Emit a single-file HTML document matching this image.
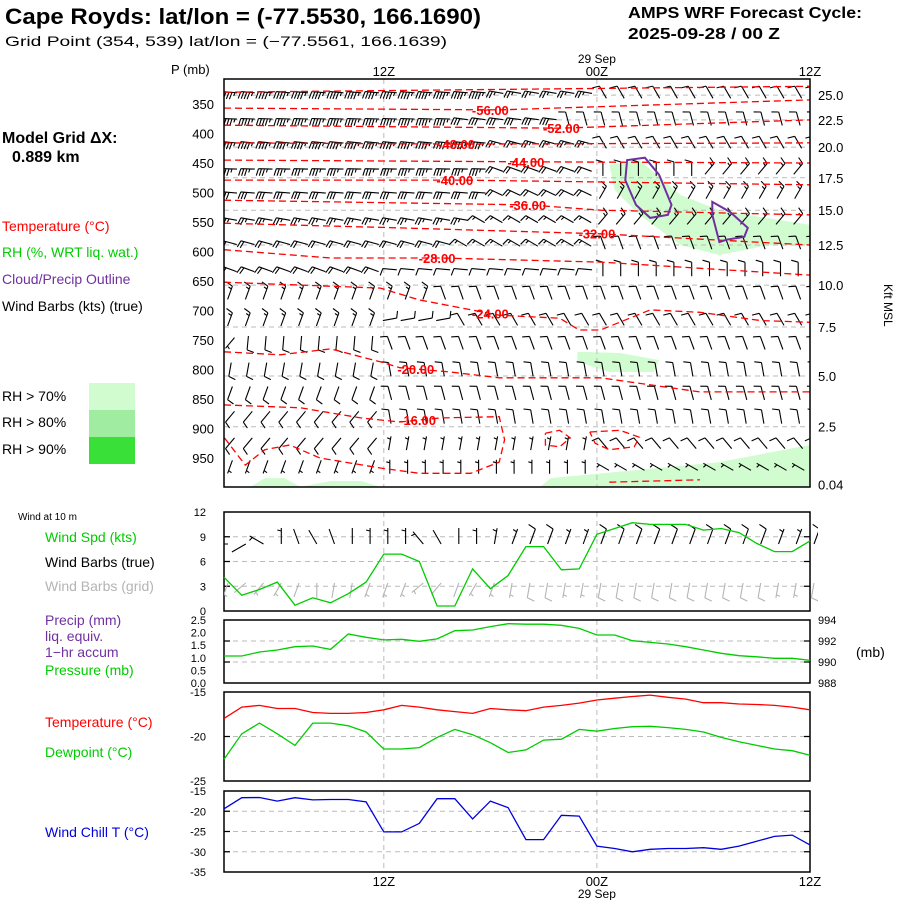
<!DOCTYPE html>
<html><head><meta charset="utf-8"><title>AMPS meteogram Cape Royds</title>
<style>
html,body{margin:0;padding:0;background:#fff;}
svg{display:block;font-family:"Liberation Sans",sans-serif;}
</style></head>
<body>
<svg id="chart" width="900" height="900" viewBox="0 0 900 900" xmlns="http://www.w3.org/2000/svg">
<rect width="900" height="900" fill="#fff"/>
<text x="5" y="24" font-size="22" font-weight="bold" textLength="476" lengthAdjust="spacingAndGlyphs">Cape Royds:  lat/lon = (-77.5530, 166.1690)</text>
<text x="5" y="46" font-size="14" textLength="442" lengthAdjust="spacingAndGlyphs">Grid Point (354, 539) lat/lon = (−77.5561, 166.1639)</text>
<text x="628" y="18" font-size="16" font-weight="bold" textLength="234" lengthAdjust="spacingAndGlyphs">AMPS WRF Forecast Cycle:</text>
<text x="628" y="39" font-size="16" font-weight="bold" textLength="152" lengthAdjust="spacingAndGlyphs">2025-09-28 / 00  Z</text>
<text x="2" y="143" font-size="16" font-weight="bold">Model Grid ΔX:</text>
<text x="12" y="162" font-size="16" font-weight="bold">0.889 km</text>
<g font-size="14">
<text x="2" y="231" fill="#ff0000">Temperature (°C)</text>
<text x="2" y="257" fill="#00cc00">RH (%, WRT liq. wat.)</text>
<text x="2" y="284" fill="#7030a0">Cloud/Precip Outline</text>
<text x="2" y="311" fill="#000">Wind Barbs (kts) (true)</text>
<text x="2" y="401">RH &gt; 70%</text>
<text x="2" y="427">RH &gt; 80%</text>
<text x="2" y="454">RH &gt; 90%</text>
</g>
<rect x="89" y="383" width="46" height="27" fill="#d0fcd0"/>
<rect x="89" y="410" width="46" height="27" fill="#a0eca0"/>
<rect x="89" y="437" width="46" height="27" fill="#38e038"/>
<text x="18" y="520" font-size="10">Wind at 10 m</text>
<g font-size="14">
<text x="45" y="542" fill="#00cc00">Wind Spd (kts)</text>
<text x="45" y="567" fill="#000">Wind Barbs (true)</text>
<text x="45" y="591" fill="#b4b4b4">Wind Barbs (grid)</text>
<text x="45" y="625" fill="#7030a0">Precip (mm)</text>
<text x="45" y="641" fill="#7030a0">liq. equiv.</text>
<text x="45" y="657" fill="#7030a0">1−hr accum</text>
<text x="45" y="675" fill="#00cc00">Pressure (mb)</text>
<text x="45" y="727" fill="#ff0000">Temperature (°C)</text>
<text x="45" y="757" fill="#00cc00">Dewpoint (°C)</text>
<text x="45" y="837" fill="#0000dd">Wind Chill T (°C)</text>
<text x="171" y="74" font-size="13">P (mb)</text>
<text x="884" y="284" font-size="12" transform="rotate(90 884 284)">Kft MSL</text>
<text x="856" y="657">(mb)</text>
</g>
<g id="layer"></g>
</svg>
<script>
// ---------- data ----------
const hours = Array.from({length:34},(_,i)=>i); // hourly from 03Z
const timeTickHours = [9, 21, 33];
const timeTickLabels = ["12Z", "00Z", "12Z"];
const dateLabel = "29 Sep";
const pressureTicks = [350,400,450,500,550,600,650,700,750,800,850,900,950];
const kftLabels = ["25.0","22.5","20.0","17.5","15.0","12.5","10.0","7.5","5.0","2.5","0.04"];
const kftPressures = [335,377,423,475,530,589,657,728,811,897,995];
const barbLevels = [330,375,415,460,500,545,585,630,670,715,755,800,840,880,925,965];
// per level: segments [lastHour, directionDeg, speedKts]
const barbSegs = [
 [[14,275,45],[20,280,25],[33,330,10]],
 [[12,272,45],[18,278,30],[33,345,12]],
 [[14,275,45],[20,285,25],[33,330,10]],
 [[14,272,35],[20,290,20],[26,0,12],[33,40,15]],
 [[14,275,30],[20,295,20],[33,30,15]],
 [[13,280,25],[20,300,15],[33,40,15]],
 [[12,285,20],[20,300,15],[33,340,10]],
 [[8,290,20],[20,275,10],[33,0,10]],
 [[11,20,15],[33,340,10]],
 [[8,20,15],[12,80,10],[33,330,10]],
 [[0,220,5],[8,185,10],[33,340,10]],
 [[8,190,10],[33,350,12]],
 [[8,200,10],[33,345,12]],
 [[8,220,10],[33,350,10]],
 [[8,220,10],[20,10,5],[33,320,10]],
 [[8,200,5],[20,0,5],[33,300,5]]
];
const contourLevels = [-60,-56,-52,-48,-44,-40,-36,-32,-28,-24,-20,-16,-16,-16,-16];
const contourHours = [
 [0,33],[0,15.5,33],[0,18.9,33],[0,13.3,33],[0,17.2,33],[0,13.3,33],[0,17.2,21.2,33],
 [0,9.9,21.2,33],[0,6,12.2,21.2,33],[0,8.8,11,15.5,18.9,20,21.2,24,26.8,30.2,33],
 [0,3.15,6,8.8,9.9,12.7,15.5,21.2,26.8,33],
 [0,4.3,7.7,9.9,12.2,15.5,15.8,15.5,13.9,11,8.8,5.4,3.7,2.3,1.2,0],
 [18.1,18.9,19.5,18.9,18.1,18.1],[20.6,22.3,23.4,23.1,21.7,20.9,20.6],[21.7,26.8]
];
const contourPressures = [
 [330,320],[357,360,343],[386,391,377],[416,418,416],[445,448,450],[479,479,487],[513,521,530,538],
 [552,560,570,589],[597,611,611,618,640],[652,662,682,708,713,733,733,699,703,717,720],
 [770,775,765,787,797,804,814,814,838,838],
 [860,865,882,889,882,880,919,957,976,976,967,950,928,936,962,915],
 [908,903,916,931,928,908],[906,903,915,931,936,925,906],[991,987]
];
const contourLabelHours = [null,15,19,13.1,17,13,17.1,21,12,15,10.8,10.9,null,null,null];
const rhHours = [[21.7,23.4,25.7,27.9,33,33,30.7,27.9,25.7,23.4,22],[19.9,22.3,24.5,24.2,21.7,19.9],
 [18.4,23.4,27.9,33,33,17.8],[1.5,2.3,3.4,4.3],[4.3,6,7.7,8.8]];
const rhPressures = [[453,445,504,530,555,589,589,606,589,538,496],[770,772,784,804,804,787],
 [984,970,957,928,999,999],[999,984,984,999],[999,989,989,999]];
const cloudHours = [[22.7,23.7,24.5,25.2,25,24,23.2,22.6],[27.5,28.5,29.5,29.3,28.3,27.9,27.5]];
const cloudPressures = [[445,441,470,521,538,543,521,479],[516,533,560,575,580,584,538]];
const windSpd = [4.1,1.9,2.6,3.5,0.7,1.6,1.0,2.1,3.5,6.9,6.9,6.0,0.6,0.6,5.1,2.7,4.3,7.8,7.8,5.0,5.1,9.3,10.0,10.7,10.5,10.5,10.5,9.8,10.0,9.5,8.2,7.2,7.2,8.5];
const windDir10 = [270,240,300,0,340,330,340,0,0,0,0,320,330,0,0,10,20,20,20,20,20,20,20,20,20,20,20,20,20,20,20,20,20,20];
const windDirGrid = [200,230,220,210,200,180,190,190,200,200,200,230,220,200,210,200,190,190,190,190,190,190,190,190,190,190,190,190,190,190,190,190,190,190];
const windTicks = [0,3,6,9,12];
const pressureSfc = [990.57,990.57,990.95,991.14,991.46,991.52,991.2,992.67,992.35,992.1,992.16,991.97,992.2,992.98,993.05,993.37,993.65,993.6,993.6,993.5,993.2,992.57,992.57,992.03,991.87,991.71,991.46,991.14,990.83,990.6,990.5,990.35,990.35,990.16];
const precipTicks = ["0.0","0.5","1.0","1.5","2.0","2.5"];
const mslpTicks = [988,990,992,994];
const temperature = [-17.97,-16.7,-16.5,-16.85,-16.85,-17.3,-17.4,-17.4,-17.3,-17.0,-16.5,-16.7,-17.0,-17.2,-17.4,-16.85,-17.0,-17.1,-16.7,-16.5,-16.25,-15.9,-15.7,-15.5,-15.35,-15.6,-15.8,-16.2,-16.2,-16.35,-16.4,-16.5,-16.7,-17.0];
const dewpoint = [-22.55,-19.7,-18.5,-19.7,-21.0,-18.5,-18.5,-18.8,-19.5,-21.4,-21.4,-21.25,-20.1,-19.2,-19.8,-20.7,-21.8,-21.5,-20.4,-20.3,-19.2,-19.4,-19.1,-18.9,-18.85,-19.0,-19.2,-19.5,-20.1,-20.6,-21.0,-21.4,-21.6,-22.1];
const tempTicks = [-25,-20,-15];
const windChill = [-19.4,-16.65,-16.6,-17.5,-16.65,-17.2,-17.1,-17.1,-17.7,-25.1,-25.1,-23.0,-16.9,-16.9,-21.9,-17.5,-19.1,-27.0,-27.0,-21.0,-21.2,-28.6,-29.2,-30.0,-29.4,-29.2,-29.2,-29.0,-29.4,-28.6,-27.4,-26.2,-25.9,-28.3];
const wcTicks = [-35,-30,-25,-20,-15];

// ---------- layout ----------
const L=224, R=810, NH=33;
const xS = h => L + h*(R-L)/NH;
const pY = p => 104 + (p-350)*0.59;
const M={top:79,bot:487};
const WP={top:512,bot:611,min:0,max:12};
const PP={top:620,bot:683,min:988,max:994};
const TP={top:692,bot:781,min:-25,max:-15};
const CP={top:791,bot:872,min:-35,max:-15};
const lin=(P)=>v=>P.bot-(v-P.min)/(P.max-P.min)*(P.bot-P.top);
const wY=lin(WP), prY=lin(PP), tY=lin(TP), cY=lin(CP);
const NS="http://www.w3.org/2000/svg";
const layer=document.getElementById('layer');
function mk(tag,attrs,parent){const e=document.createElementNS(NS,tag);for(const k in attrs)e.setAttribute(k,attrs[k]);(parent||layer).appendChild(e);return e;}

const defs=mk('defs',{});
const cp=mk('clipPath',{id:'mainclip'},defs);
mk('rect',{x:L,y:M.top,width:R-L,height:M.bot-M.top},cp);
const cp2=mk('clipPath',{id:'windclip'},defs);
mk('rect',{x:L,y:WP.top,width:R-L+8,height:WP.bot-WP.top},cp2);

// ----- main panel -----
const rhG=mk('g',{'clip-path':'url(#mainclip)'});


rhHours.forEach((hs,i)=>{
  const pts=hs.map((h,j)=>xS(h).toFixed(1)+','+pY(rhPressures[i][j]).toFixed(1)).join(' ');
  const el=mk('polygon',{points:pts,fill:'#d0fcd0'},rhG);
  
  
});
kftPressures.slice(0,10).forEach((p,i)=>{
  const el=mk('line',{x1:L,x2:R,y1:pY(p),y2:pY(p),stroke:'#bbb','stroke-dasharray':'5,4'});
  
  
});
[[M.top,M.bot],[WP.top,WP.bot],[PP.top,PP.bot],[TP.top,TP.bot],[CP.top,CP.bot]].forEach(([a,b])=>{
  timeTickHours.slice(0,2).forEach(h=>{
    const el=mk('line',{x1:xS(h),x2:xS(h),y1:a,y2:b,stroke:'#bbb','stroke-dasharray':'5,4'});
    
    
  });
});
function barb(parent,cx,cy,dir,spd,len,color,centered){
  const r=dir*Math.PI/180, dx=Math.sin(r), dy=-Math.cos(r);
  let sx=cx, sy=cy;
  if(centered){sx=cx-dx*len/2; sy=cy-dy*len/2;}
  const ex=sx+dx*len, ey=sy+dy*len;
  let d=`M${sx.toFixed(1)},${sy.toFixed(1)}L${ex.toFixed(1)},${ey.toFixed(1)}`;
  const px=dy, py=-dx; let s=Math.round(spd/5)*5; let k=0;
  const fl=len*0.5;
  while(s>=10){const bx=ex-dx*k*3, by=ey-dy*k*3;d+=`M${bx.toFixed(1)},${by.toFixed(1)}l${(px*fl+dx*2).toFixed(1)},${(py*fl+dy*2).toFixed(1)}`;s-=10;k++;}
  if(s>=5){if(k===0)k=1;const bx=ex-dx*k*3, by=ey-dy*k*3;d+=`M${bx.toFixed(1)},${by.toFixed(1)}l${(px*fl/2+dx).toFixed(1)},${(py*fl/2+dy).toFixed(1)}`;}
  return mk('path',{d:d,stroke:color,'stroke-width':1.1,fill:'none'},parent);
}
const barbG=mk('g',{'clip-path':'url(#mainclip)'});


barbLevels.forEach((p,i)=>{
  hours.forEach(h=>{
    const seg=barbSegs[i].find(s=>h<=s[0]);
    const el=barb(barbG,xS(h)+6,pY(p),seg[1],seg[2],14,'#000',true);
    
    
  });
});
const conG=mk('g',{'clip-path':'url(#mainclip)'});


contourHours.forEach((hs,i)=>{
  const pts=hs.map((h,j)=>xS(h).toFixed(1)+','+pY(contourPressures[i][j]).toFixed(1)).join(' ');
  const el=mk('polyline',{points:pts,fill:'none',stroke:'#ff0000','stroke-width':1.3,'stroke-dasharray':'7,4'},conG);
  
  
});
contourHours.forEach((hs,i)=>{
  const lh=contourLabelHours[i]; if(lh===null) return;
  let py=contourPressures[i][0];
  for(let j=0;j<hs.length-1;j++){if(lh>=hs[j]&&lh<=hs[j+1]){const t=(lh-hs[j])/(hs[j+1]-hs[j]);py=contourPressures[i][j]+t*(contourPressures[i][j+1]-contourPressures[i][j]);break;}}
  const t=mk('text',{x:xS(lh),y:pY(py)+5,'text-anchor':'middle','font-size':13,'font-weight':'bold',fill:'#ff0000'},conG);
  t.textContent=contourLevels[i].toFixed(2);
  
  
});
cloudHours.forEach((hs,i)=>{
  const pts=hs.map((h,j)=>xS(h).toFixed(1)+','+pY(cloudPressures[i][j]).toFixed(1)).join(' ');
  const el=mk('polygon',{points:pts,fill:'none',stroke:'#7030a0','stroke-width':2});
  
  
});
const fr=mk('rect',{x:L,y:M.top,width:R-L,height:M.bot-M.top,fill:'none',stroke:'#000','stroke-width':1.5});


pressureTicks.forEach(p=>{
  const t=mk('text',{x:214,y:pY(p)+5,'text-anchor':'end','font-size':13});
  t.textContent=p;
  
  
});
kftLabels.forEach((s,i)=>{
  const y=Math.min(pY(kftPressures[i]),485);
  const t=mk('text',{x:818,y:y+5,'font-size':13});
  t.textContent=s;
  
  
});
timeTickHours.forEach((h,i)=>{
  const a=mk('text',{x:xS(h),y:76,'text-anchor':'middle','font-size':13});
  a.textContent=timeTickLabels[i];
  
  
  const b=mk('text',{x:xS(h),y:886,'text-anchor':'middle','font-size':13});
  b.textContent=timeTickLabels[i];
  
  
});
const d1=mk('text',{x:xS(21),y:63,'text-anchor':'middle','font-size':12});
d1.textContent=dateLabel;


const d2=mk('text',{x:xS(21),y:898,'text-anchor':'middle','font-size':12});
d2.textContent=dateLabel;



// ----- small panels -----
function panel(P,name,ticks,yfn,labels,gridVals){
  gridVals.forEach(v=>{
    const el=mk('line',{x1:L,x2:R,y1:yfn(v),y2:yfn(v),stroke:'#bbb','stroke-dasharray':'5,4'});
    
    
    const tk=mk('path',{d:`M${L},${yfn(v)}h6M${R},${yfn(v)}h-6`,stroke:'#000','stroke-width':1.3});
    
    
  });
  const r=mk('rect',{x:L,y:P.top,width:R-L,height:P.bot-P.top,fill:'none',stroke:'#000','stroke-width':1.5});
  
  
  ticks.forEach((v,i)=>{
    const t=mk('text',{x:206,y:yfn(v)+4,'text-anchor':'end','font-size':11});
    t.textContent=labels?labels[i]:v;
    
    
  });
}
function series(vals,yfn,color,name){
  const pts=vals.map((v,i)=>xS(hours[i]).toFixed(1)+','+yfn(v).toFixed(1)).join(' ');
  const el=mk('polyline',{points:pts,fill:'none',stroke:color,'stroke-width':1.3});
  
  
}
panel(WP,'wind-panel',windTicks,wY,null,[3,6,9]);
const wb=mk('g',{'clip-path':'url(#windclip)'});


hours.forEach(h=>{
  const a=barb(wb,xS(h)+4,544,windDir10[h],windSpd[h],16,'#000',false);
  
  
  const b=barb(wb,xS(h)+4,583,windDirGrid[h],windSpd[h],15,'#b4b4b4',false);
  
  
});
series(windSpd,wY,'#00cc00','wind-speed-line');
panel(PP,'precip-panel',[0,0.5,1,1.5,2,2.5].map(v=>988+v*6/2.5),prY,precipTicks,[990,992]);
mslpTicks.forEach(v=>{
  const t=mk('text',{x:818,y:prY(v)+4,'font-size':11});
  t.textContent=v;
  
  
});
series(pressureSfc,prY,'#00cc00','pressure-line');
panel(TP,'temp-panel',tempTicks,tY,null,[-20]);
series(temperature,tY,'#ff0000','temperature-line');
series(dewpoint,tY,'#00cc00','dewpoint-line');
panel(CP,'windchill-panel',wcTicks,cY,null,[-30,-25,-20]);
series(windChill,cY,'#0000dd','wind-chill-line');
</script>
</body></html>
